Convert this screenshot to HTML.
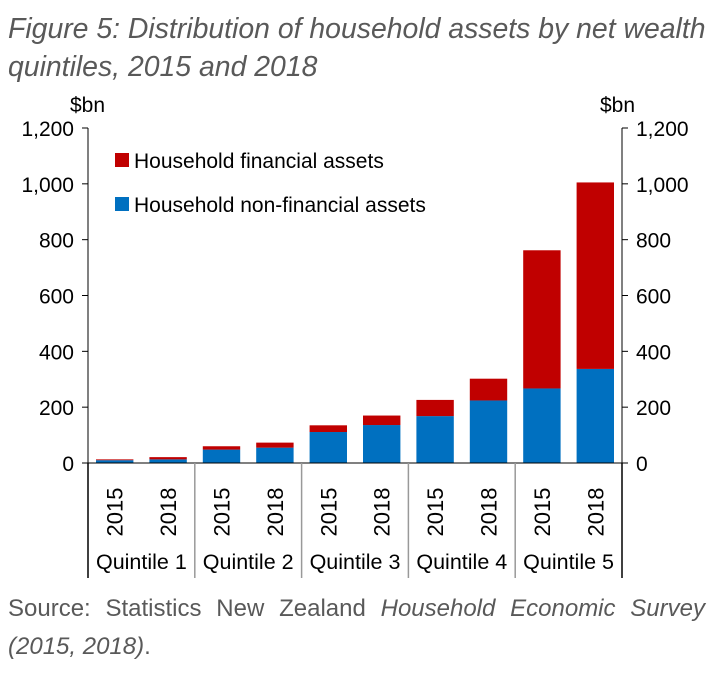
<!DOCTYPE html>
<html><head><meta charset="utf-8"><style>
body{margin:0;background:#fff;width:723px;height:673px;overflow:hidden;font-family:"Liberation Sans",sans-serif}
.t{position:absolute;left:8px;top:10px;font-size:28.4px;font-style:italic;color:#595959;line-height:38px;white-space:nowrap}
.s{position:absolute;left:8px;top:590px;font-size:24px;color:#595959;line-height:38px;width:697px}
.s .l1{text-align:justify;text-align-last:justify;white-space:nowrap}
</style></head><body>
<div class="t">Figure 5: Distribution of household assets by net wealth<br>quintiles, 2015 and 2018</div>
<svg id="c" width="723" height="673" style="position:absolute;left:0;top:0"></svg>
<div class="s"><div class="l1">Source: Statistics New Zealand <i>Household Economic Survey</i></div><div><i>(2015, 2018)</i>.</div></div>
<script>
const years=["2015","2018","2015","2018","2015","2018","2015","2018","2015","2018"];
const groups=["Quintile 1","Quintile 2","Quintile 3","Quintile 4","Quintile 5"];
const nonFinancial=[10,13,48,55,111,136,168,224,267,337];
const financial=[3,8,12,18,24,34,58,78,495,668];
const ticks=[0,200,400,600,800,1000,1200];
const tickLabels=["0","200","400","600","800","1,000","1,200"];
const NS="http://www.w3.org/2000/svg",svg=document.getElementById('c');
const L=88,R=622,Y0=463,Ytop=128,MAX=1200;
const y=v=>Y0-(Y0-Ytop)*v/MAX;
const bw=(R-L)/years.length;
function mk(t,a,txt){const e=document.createElementNS(NS,t);for(const k in a)e.setAttribute(k,a[k]);if(txt!=null)e.textContent=txt;svg.appendChild(e);return e;}
let e;
e=mk('line',{x1:L,x2:L,y1:Ytop,y2:Y0,stroke:'#000'});

e=mk('line',{x1:R,x2:R,y1:Ytop,y2:Y0,stroke:'#000'});

ticks.forEach((t,i)=>{
 mk('line',{x1:L-6,x2:L,y1:y(t),y2:y(t),stroke:'#000'});
 mk('line',{x1:R,x2:R+6,y1:y(t),y2:y(t),stroke:'#000'});
 e=mk('text',{x:L-14,y:y(t)+8,'text-anchor':'end','font-size':21},tickLabels[i]);
 
 e=mk('text',{x:R+14,y:y(t)+8,'font-size':21},tickLabels[i]);
 
});
e=mk('text',{x:70,y:112,'font-size':21},'$bn');
e=mk('text',{x:600,y:112,'font-size':21},'$bn');
years.forEach((yr,i)=>{
 const x=L+i*bw+8,w=bw-16;
 e=mk('rect',{x:x,y:y(nonFinancial[i]),width:w,height:Y0-y(nonFinancial[i]),fill:'#0070C0'});
 
 e=mk('rect',{x:x,y:y(nonFinancial[i]+financial[i]),width:w,height:y(nonFinancial[i])-y(nonFinancial[i]+financial[i]),fill:'#C00000'});
 
 const cx=L+(i+0.5)*bw+8,cy=512;
 e=mk('text',{x:cx,y:cy,'font-size':22,transform:`rotate(-90 ${cx} ${cy})`,'text-anchor':'middle'},yr);
 
});
mk('line',{x1:L-6,x2:R+6,y1:Y0,y2:Y0,stroke:'#000'});
for(let g=0;g<=groups.length;g++){
 const x=L+g*2*bw;
 mk('line',{x1:x,x2:x,y1:Y0,y2:578,stroke:g==0||g==groups.length?'#000':'#999','stroke-width':1.5});
}
groups.forEach((gn,g)=>{
 e=mk('text',{x:L+(g*2+1)*bw,y:569,'font-size':21.5,'text-anchor':'middle'},gn);
 
});
e=mk('rect',{x:115,y:153,width:14,height:14,fill:'#C00000'});
e=mk('text',{x:134,y:168,'font-size':21},'Household financial assets');
e=mk('rect',{x:115,y:197,width:14,height:14,fill:'#0070C0'});
e=mk('text',{x:134,y:212,'font-size':21},'Household non-financial assets');
</script>
</body></html>
